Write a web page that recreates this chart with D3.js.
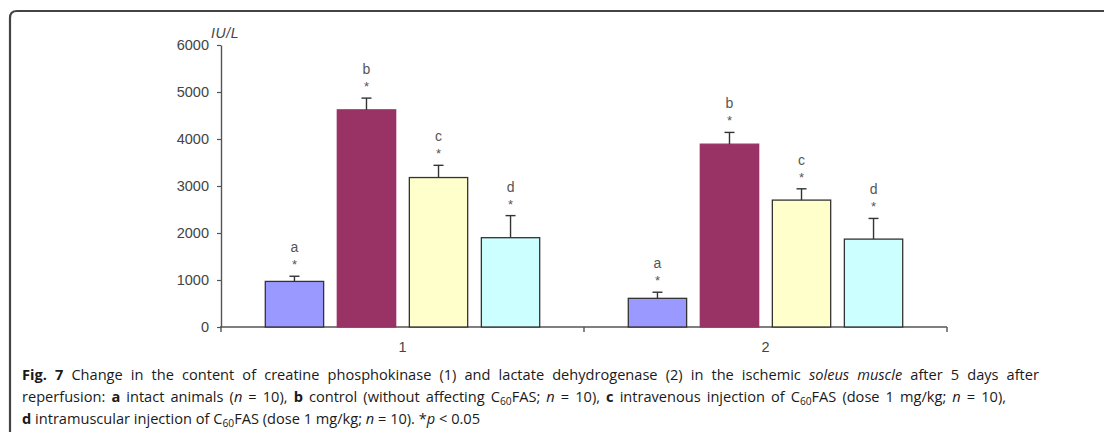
<!DOCTYPE html>
<html>
<head>
<meta charset="utf-8">
<script src="https://cdn.jsdelivr.net/npm/d3@7/dist/d3.min.js"></script>
<style>
  html, body { margin: 0; padding: 0; background: #fff; }
  svg { display: block; }
</style>
</head>
<body>
<svg id="chart" width="1104" height="432"></svg>
<script>
// Enzyme groups on the x axis
const groups = ["1", "2"];
// Experimental series
const series = ["a", "b", "c", "d"];
// Mean activity, IU/L (rows follow groups, columns follow series)
const meanCPK = [970, 4620, 3180, 1900];
const meanLDH = [610, 3890, 2700, 1870];
// Upper error (SEM), IU/L
const errCPK = [110, 250, 260, 470];
const errLDH = [130, 250, 240, 440];
// Y-axis ticks
const yTicks = [0, 1000, 2000, 3000, 4000, 5000, 6000];
const yUnit = "IU/L";

const colors = { a: "#9999ff", b: "#993366", c: "#ffffcc", d: "#ccffff" };
const strokes = { a: "#333", b: "#993366", c: "#333", d: "#333" };

const rows = [
  { group: "1", means: meanCPK, errs: errCPK },
  { group: "2", means: meanLDH, errs: errLDH }
];

const axisFont = "Liberation Sans, Arial, sans-serif";
const svg = d3.select("#chart");

// Rounded frame (top and left edges)
svg.append("path")
  .attr("d", "M10,432 L10,18 Q10,11 17,11 L1104,11")
  .attr("fill", "none")
  .attr("stroke", "#444")
  .attr("stroke-width", 2.2);

const x0 = d3.scaleBand().domain(groups).range([221, 947]).paddingInner(0).paddingOuter(0);
const x1 = d3.scaleBand().domain(series).range([0, x0.bandwidth()]).paddingInner(0.19).paddingOuter(0.615);
const y = d3.scaleLinear().domain([0, 6000]).range([327, 45]);

// Y axis
const yAxis = d3.axisLeft(y).tickValues(yTicks).tickFormat(d3.format("d"))
  .tickSize(4).tickPadding(8).tickSizeOuter(0);
const gy = svg.append("g").attr("transform", "translate(221,0)").call(yAxis);
gy.select(".domain").attr("stroke", "#555").attr("stroke-width", 1.4);
gy.selectAll(".tick line").attr("stroke", "#555").attr("stroke-width", 1.2);
gy.selectAll(".tick text")
  .attr("font-family", axisFont)
  .attr("font-size", 14.5)
  .attr("fill", "#444");

// Y unit label
svg.append("text")
  .attr("x", 211).attr("y", 38)
  .attr("font-family", axisFont)
  .attr("font-style", "italic")
  .attr("font-size", 14)
  .attr("letter-spacing", 0.6)
  .attr("fill", "#444")
  .text(yUnit);

// X axis baseline with ticks at band edges
const gx = svg.append("g");
gx.append("line")
  .attr("x1", x0.range()[0] - 1).attr("x2", x0.range()[1])
  .attr("y1", y(0)).attr("y2", y(0))
  .attr("stroke", "#555").attr("stroke-width", 1.4);
const edges = [x0.range()[0], x0("2"), x0.range()[1]];
gx.selectAll("line.edge").data(edges).join("line")
  .attr("class", "edge")
  .attr("x1", d => d).attr("x2", d => d)
  .attr("y1", y(0)).attr("y2", y(0) + 5)
  .attr("stroke", "#555").attr("stroke-width", 1.4);
gx.selectAll("text").data(groups).join("text")
  .attr("x", d => x0(d) + x0.bandwidth() / 2)
  .attr("y", 352)
  .attr("text-anchor", "middle")
  .attr("font-family", axisFont)
  .attr("font-size", 14.5)
  .attr("fill", "#444")
  .text(d => d);

// Bars, error bars and significance labels
rows.forEach(row => {
  const g = svg.append("g").attr("transform", `translate(${x0(row.group)},0)`);
  const data = series.map((s, i) => ({ s, v: row.means[i], e: row.errs[i] }));

  g.selectAll("rect").data(data).join("rect")
    .attr("x", d => x1(d.s))
    .attr("y", d => y(d.v))
    .attr("width", x1.bandwidth())
    .attr("height", d => y(0) - y(d.v))
    .attr("fill", d => colors[d.s])
    .attr("stroke", d => strokes[d.s])
    .attr("stroke-width", 1.3);

  const cx = d => x1(d.s) + x1.bandwidth() / 2;
  g.selectAll("line.err").data(data).join("line")
    .attr("class", "err")
    .attr("x1", cx).attr("x2", cx)
    .attr("y1", d => y(d.v)).attr("y2", d => y(d.v + d.e))
    .attr("stroke", "#333").attr("stroke-width", 1.4);
  g.selectAll("line.cap").data(data).join("line")
    .attr("class", "cap")
    .attr("x1", d => cx(d) - 5).attr("x2", d => cx(d) + 5)
    .attr("y1", d => y(d.v + d.e)).attr("y2", d => y(d.v + d.e))
    .attr("stroke", "#333").attr("stroke-width", 1.4);

  g.selectAll("text.star").data(data).join("text")
    .attr("class", "star")
    .attr("x", cx)
    .attr("y", d => y(d.v + d.e) - 7)
    .attr("text-anchor", "middle")
    .attr("font-family", axisFont)
    .attr("font-size", 13)
    .attr("fill", "#555")
    .text("*");
  g.selectAll("text.letter").data(data).join("text")
    .attr("class", "letter")
    .attr("x", cx)
    .attr("y", d => y(d.v + d.e) - 24)
    .attr("text-anchor", "middle")
    .attr("font-family", axisFont)
    .attr("font-size", 14)
    .attr("fill", "#555")
    .text(d => d.s);
});

// Figure caption: segments of [text, style]; full lines are justified
const captionLines = [
  { y: 380, justify: 1017, parts: [
    ["Fig. 7", "b"], [" Change in the content of creatine phosphokinase (1) and lactate dehydrogenase (2) in the ischemic ", ""],
    ["soleus muscle", "i"], [" after 5 days after", ""] ] },
  { y: 402, justify: 984, parts: [
    ["reperfusion: ", ""], ["a", "b"], [" intact animals (", ""], ["n", "i"], [" = 10), ", ""], ["b", "b"],
    [" control (without affecting C", ""], ["60", "sub"], ["FAS; ", ""], ["n", "i"], [" = 10), ", ""], ["c", "b"],
    [" intravenous injection of C", ""], ["60", "sub"], ["FAS (dose 1 mg/kg; ", ""], ["n", "i"], [" = 10),", ""] ] },
  { y: 424, justify: null, parts: [
    ["d", "b"], [" intramuscular injection of C", ""], ["60", "sub"], ["FAS (dose 1 mg/kg; ", ""], ["n", "i"],
    [" = 10). *", ""], ["p", "i"], [" < 0.05", ""] ] }
];
const captionSize = 14.6;

captionLines.forEach(line => {
  const t = svg.append("text")
    .attr("x", 22).attr("y", line.y)
    .attr("font-family", "Open Sans, Noto Sans, sans-serif")
    .attr("font-size", captionSize)
    .attr("fill", "#1a1a1a");
  let prevSub = false;
  line.parts.forEach(([txt, st]) => {
    const ts = t.append("tspan").text(txt);
    if (st === "b") ts.attr("font-weight", "bold");
    if (st === "i") ts.attr("font-style", "italic");
    if (st === "sub") ts.attr("font-size", captionSize * 0.7).attr("dy", 3);
    else if (prevSub) ts.attr("dy", -3);
    prevSub = st === "sub";
  });
  if (line.justify) {
    const natural = t.node().getComputedTextLength();
    const spaces = line.parts.map(p => p[0]).join("").split(" ").length - 1;
    t.attr("word-spacing", (line.justify - natural) / spaces);
  }
});
</script>
</body>
</html>
